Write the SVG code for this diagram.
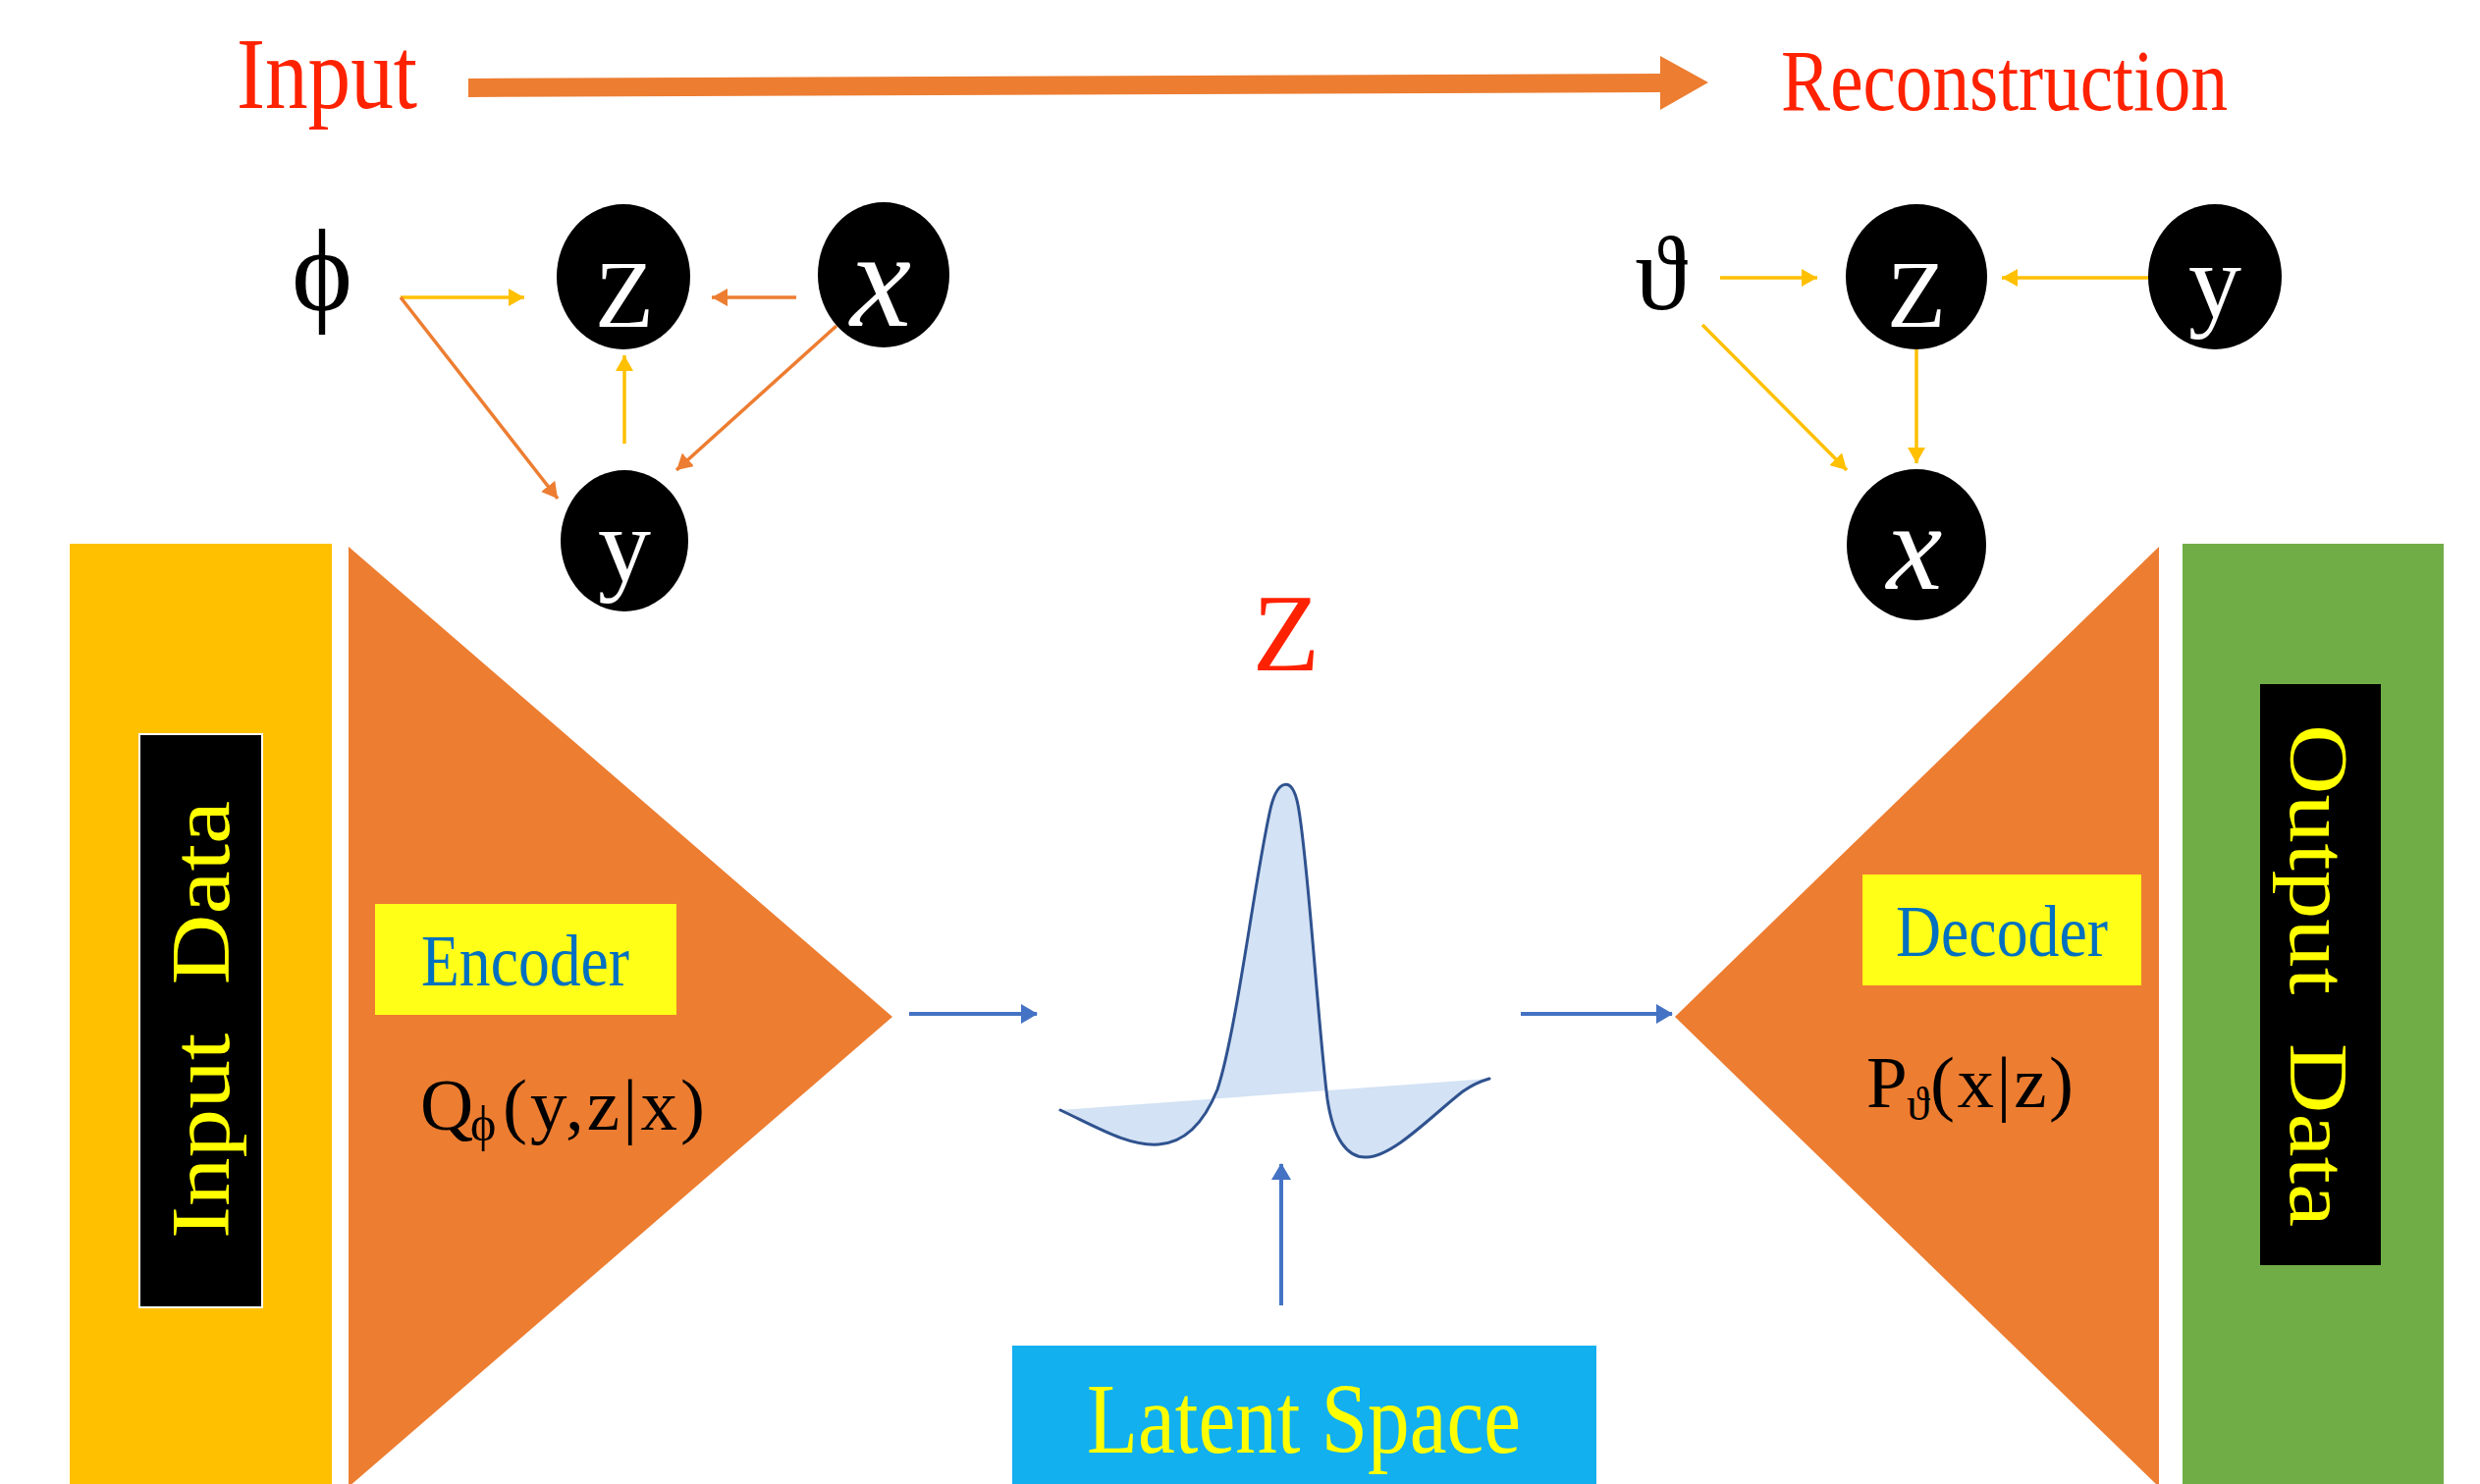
<svg xmlns="http://www.w3.org/2000/svg" width="2526" height="1512" viewBox="0 0 2526 1512">
<style>
.serif{font-family:"Liberation Serif","DejaVu Serif",serif;}
.node{fill:#000;}
.nlabel{fill:#fff;font-family:"Liberation Serif","DejaVu Serif",serif;text-anchor:middle;}
.yl{stroke:#FFC000;stroke-width:3.5;fill:none;}
.or{stroke:#ED7D31;stroke-width:3.5;fill:none;}
.bl{stroke:#4472C4;stroke-width:4;fill:none;}
.red{fill:#FF2200;}
</style>
<defs>
<marker id="hy" markerUnits="userSpaceOnUse" markerWidth="18" markerHeight="18" refX="16" refY="9" orient="auto"><path d="M0,0 L16,9 L0,18 Z" fill="#FFC000"/></marker>
<marker id="ho" markerUnits="userSpaceOnUse" markerWidth="18" markerHeight="18" refX="16" refY="9" orient="auto"><path d="M0,0 L16,9 L0,18 Z" fill="#ED7D31"/></marker>
<marker id="hb" markerUnits="userSpaceOnUse" markerWidth="18" markerHeight="20" refX="16" refY="10" orient="auto"><path d="M0,0 L17,10 L0,20 Z" fill="#4472C4"/></marker>
</defs>
<rect width="2526" height="1512" fill="#fff"/>

<g id="title-input"><text class="serif red" x="241" y="110" font-size="103" textLength="184" lengthAdjust="spacingAndGlyphs">Input</text></g>
<g id="title-arrow"><polygon points="477,80 1691,75 1691,57 1740,84 1691,112 1691,94 477,99" fill="#ED7D31"/></g>
<g id="title-reconstruction"><text class="serif red" x="1814" y="112" font-size="88" textLength="455" lengthAdjust="spacingAndGlyphs">Reconstruction</text></g>

<g id="enc-phi"><text class="serif" x="328" y="316" font-size="118" text-anchor="middle">ϕ</text></g>
<g id="enc-z"><ellipse class="node" cx="635" cy="282" rx="68" ry="74"/><text class="nlabel" x="636" y="333" font-size="98">Z</text></g>
<g id="enc-x"><ellipse class="node" cx="900" cy="280" rx="67" ry="74"/><text class="nlabel" x="897" y="332" font-size="140" font-style="italic">x</text></g>
<g id="enc-y"><ellipse class="node" cx="636" cy="551" rx="65" ry="72"/><text class="nlabel" x="636" y="592" font-size="108">y</text></g>

<g id="dec-theta"><text class="serif" x="1692" y="315" font-size="108" text-anchor="middle">ϑ</text></g>
<g id="dec-z"><ellipse class="node" cx="1952" cy="282" rx="72" ry="74"/><text class="nlabel" x="1952" y="333" font-size="98">Z</text></g>
<g id="dec-y"><ellipse class="node" cx="2256" cy="282" rx="68" ry="74"/><text class="nlabel" x="2256" y="323" font-size="108">y</text></g>
<g id="dec-x"><ellipse class="node" cx="1952" cy="555" rx="71" ry="77"/><text class="nlabel" x="1950" y="600" font-size="128" font-style="italic">x</text></g>

<g id="input-data">
<rect x="71" y="554" width="267" height="960" fill="#FFC000"/>
<rect x="142" y="748" width="125" height="584" fill="#000" stroke="#fff" stroke-width="2"/>
<text class="serif" transform="translate(233,1039) rotate(-90)" x="0" y="0" font-size="84" fill="#FFFF00" text-anchor="middle" textLength="446" lengthAdjust="spacingAndGlyphs" xml:space="preserve">Input  Data</text>
</g>

<g id="encoder">
<polygon points="355,557 909,1036 355,1515" fill="#ED7D31"/>
<rect x="382" y="921" width="307" height="113" fill="#FFFF17"/>
<text class="serif" x="429" y="1004" font-size="73" fill="#0070C0" textLength="212" lengthAdjust="spacingAndGlyphs">Encoder</text>
<text class="serif" x="428" y="1151" font-size="75" fill="#000">Q</text>
<text class="serif" x="479" y="1162" font-size="50" fill="#000">ϕ</text>
<text class="serif" x="512" y="1151" font-size="75" fill="#000" textLength="206" lengthAdjust="spacing">(y,z|x)</text>
</g>

<g id="latent-z"><text class="serif red" x="1310" y="683" font-size="112" text-anchor="middle">Z</text></g>

<g id="latent-distribution">
<path d="M1080,1131 C1120,1150 1150,1168 1180,1166 C1210,1164 1228,1140 1240,1110 C1260,1050 1280,880 1295,820 C1302,795 1316,790 1322,820 C1332,870 1342,1040 1352,1120 C1358,1160 1372,1180 1392,1179 C1420,1178 1460,1135 1490,1112 C1500,1105 1510,1101 1517,1099 L1080,1131 Z" fill="#D3E2F4" stroke="none"/>
<path d="M1080,1131 C1120,1150 1150,1168 1180,1166 C1210,1164 1228,1140 1240,1110 C1260,1050 1280,880 1295,820 C1302,795 1316,790 1322,820 C1332,870 1342,1040 1352,1120 C1358,1160 1372,1180 1392,1179 C1420,1178 1460,1135 1490,1112 C1500,1105 1510,1101 1517,1099" fill="none" stroke="#2F528F" stroke-width="3" stroke-linecap="round"/>
</g>

<g id="latent-space">
<rect x="1031" y="1371" width="595" height="145" fill="#12B0EF"/>
<text class="serif" x="1107" y="1480" font-size="101" fill="#FFFF00" textLength="442" lengthAdjust="spacingAndGlyphs">Latent Space</text>
</g>

<g id="decoder">
<polygon points="2199,557 1706,1036 2199,1515" fill="#ED7D31"/>
<rect x="1897" y="891" width="284" height="113" fill="#FFFF17"/>
<text class="serif" x="1931" y="974" font-size="75" fill="#0070C0" textLength="216" lengthAdjust="spacingAndGlyphs">Decoder</text>
<text class="serif" x="1901" y="1128" font-size="75" fill="#000">P</text>
<text class="serif" x="1942" y="1141" font-size="48" fill="#000">ϑ</text>
<text class="serif" x="1966" y="1128" font-size="75" fill="#000" textLength="146" lengthAdjust="spacing">(x|z)</text>
</g>

<g id="output-data">
<rect x="2223" y="554" width="266" height="960" fill="#70AD47"/>
<rect x="2302" y="697" width="123" height="592" fill="#000"/>
<text class="serif" transform="translate(2333,994) rotate(90)" x="0" y="0" font-size="84" fill="#FFFF00" text-anchor="middle" textLength="512" lengthAdjust="spacingAndGlyphs" xml:space="preserve">Output  Data</text>
</g>

<g id="connectors">
<line class="yl" x1="408" y1="303" x2="534" y2="303" marker-end="url(#hy)"/>
<line class="or" x1="408" y1="303" x2="568" y2="508" marker-end="url(#ho)"/>
<line class="or" x1="811" y1="303" x2="725" y2="303" stroke-width="5" marker-end="url(#ho)"/>
<line class="yl" x1="636" y1="452" x2="636" y2="362" marker-end="url(#hy)"/>
<line class="or" x1="852" y1="332" x2="689" y2="479" marker-end="url(#ho)"/>
<line class="yl" x1="1752" y1="283" x2="1851" y2="283" stroke-width="4" marker-end="url(#hy)"/>
<line class="yl" x1="2188" y1="283" x2="2039" y2="283" stroke-width="4" marker-end="url(#hy)"/>
<line class="yl" x1="1952" y1="356" x2="1952" y2="472" marker-end="url(#hy)"/>
<line class="yl" x1="1734" y1="331" x2="1881" y2="479" marker-end="url(#hy)"/>
<line class="bl" x1="926" y1="1033" x2="1056" y2="1033" marker-end="url(#hb)"/>
<line class="bl" x1="1549" y1="1033" x2="1703" y2="1033" marker-end="url(#hb)"/>
<line class="bl" x1="1305" y1="1330" x2="1305" y2="1186" marker-end="url(#hb)"/>
</g>
</svg>
